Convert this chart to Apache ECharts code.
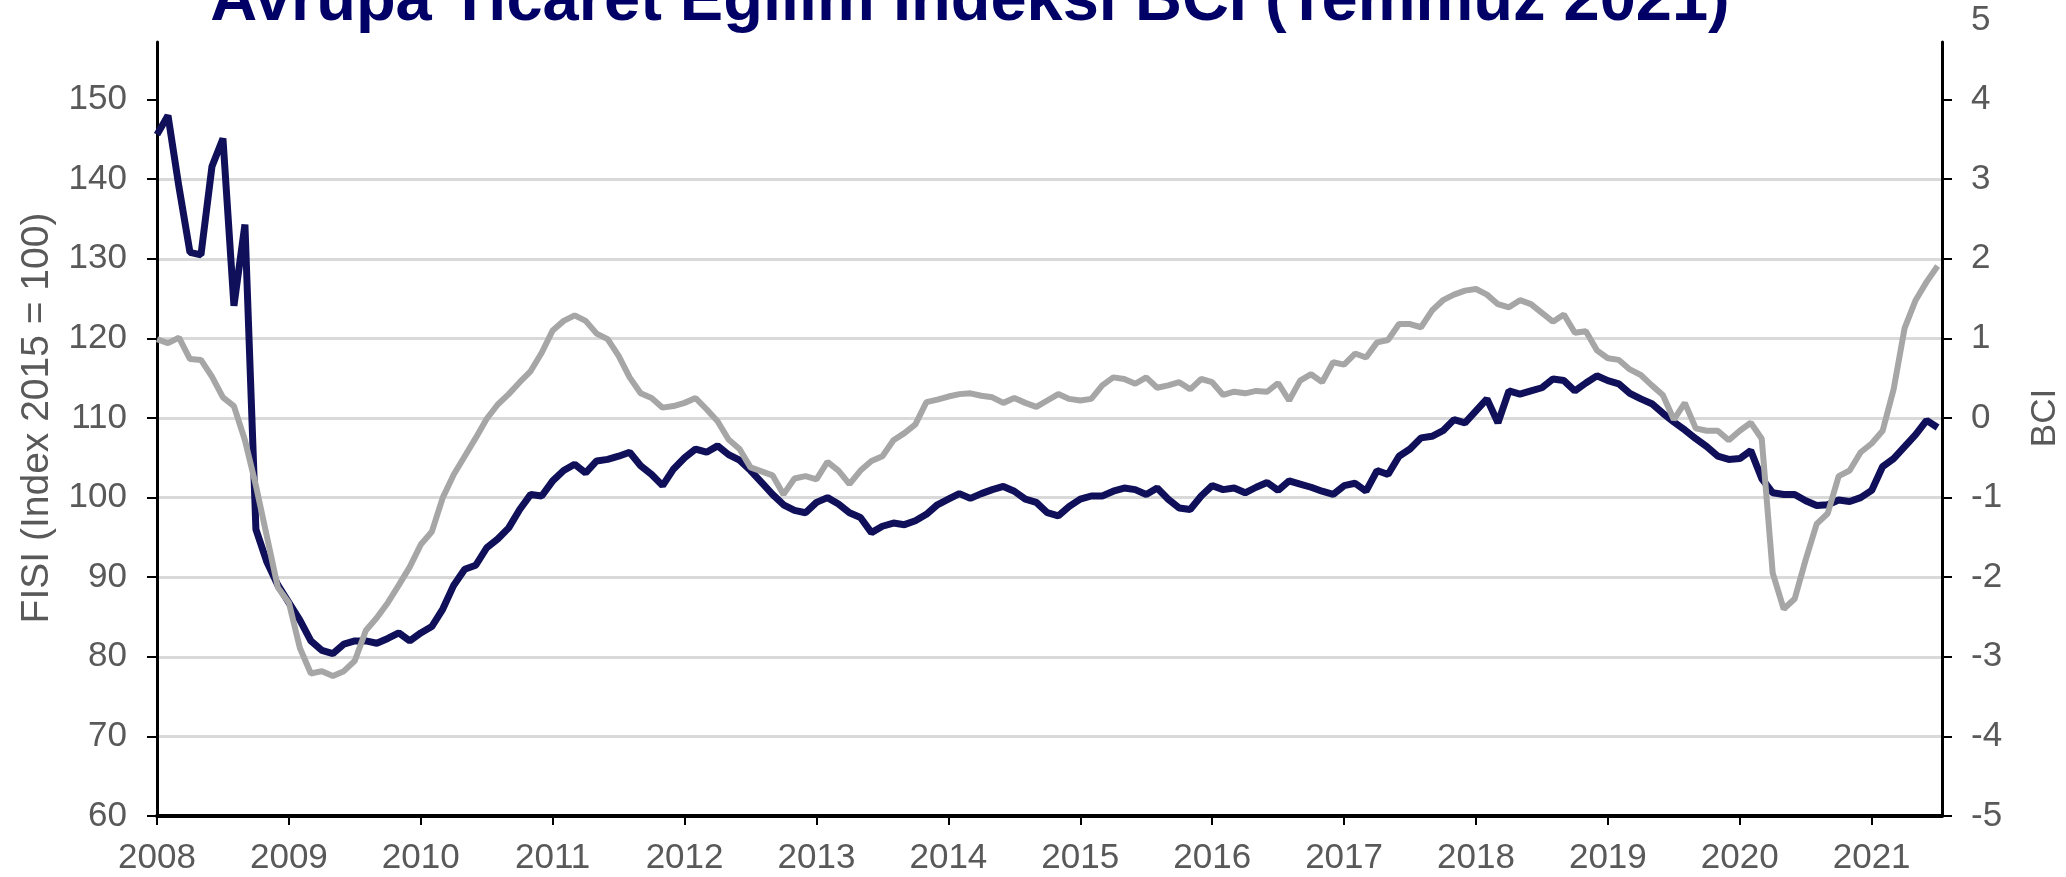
<!DOCTYPE html>
<html>
<head>
<meta charset="utf-8">
<title>Avrupa Ticaret Eğilim İndeksi BCI</title>
<script src="https://cdn.jsdelivr.net/npm/echarts@6/dist/echarts.min.js"></script>
<style>
    html, body { margin: 0; padding: 0; background: #ffffff; }
    #chart { width: 2066px; height: 877px; }
</style>
</head>
<body>
<div id="chart"></div>
<script>
// 起始年份（月度数据，2008年1月 - 2021年7月）
const startYear = 2008;
const yearTicks = [2008, 2009, 2010, 2011, 2012, 2013, 2014, 2015, 2016, 2017, 2018, 2019, 2020, 2021];
// 轴线范围内的刻度（最上方的160 / 5没有刻度线）
const fisiTicks = [60, 70, 80, 90, 100, 110, 120, 130, 140, 150];
const bciTicks = [-5, -4, -3, -2, -1, 0, 1, 2, 3, 4];

// FISI（左轴，Index 2015 = 100）
const fisi = [
    145.6, 148.0, 139.0, 130.8, 130.5, 141.6, 145.1, 124.1, 134.3, 96.0, 91.9, 89.0,
    86.8, 84.6, 82.0, 80.8, 80.4, 81.6, 82.0, 82.0, 81.7, 82.3, 83.0, 82.0,
    83.0, 83.8, 86.0, 89.0, 91.0, 91.5, 93.7, 94.8, 96.2, 98.5, 100.4, 100.2,
    102.1, 103.4, 104.2, 103.1, 104.6, 104.8, 105.2, 105.7, 104.0, 102.9, 101.5, 103.6,
    105.0, 106.1, 105.7, 106.5, 105.4, 104.7, 103.4, 101.9, 100.4, 99.1, 98.4, 98.1,
    99.4, 100.0, 99.2, 98.1, 97.5, 95.6, 96.4, 96.8, 96.6, 97.1, 97.9, 99.1,
    99.8, 100.5, 99.9, 100.5, 101.0, 101.4, 100.8, 99.8, 99.4, 98.1, 97.7, 98.9,
    99.8, 100.2, 100.2, 100.8, 101.2, 101.0, 100.4, 101.2, 99.8, 98.7, 98.5, 100.2,
    101.5, 101.0, 101.2, 100.6, 101.3, 101.9, 100.9, 102.1, 101.7, 101.3, 100.8, 100.4,
    101.5, 101.8, 100.8, 103.4, 102.9, 105.2, 106.1, 107.5, 107.7, 108.4, 109.8, 109.4,
    110.9, 112.4, 109.4, 113.4, 113.0, 113.4, 113.8, 114.9, 114.7, 113.4, 114.4, 115.3,
    114.7, 114.3, 113.1, 112.4, 111.8, 110.6, 109.5, 108.5, 107.4, 106.4, 105.2, 104.8,
    104.9, 105.9, 102.4, 100.6, 100.4, 100.4, 99.6, 99.0, 99.1, 99.7, 99.5, 100.0,
    100.9, 103.9, 104.9, 106.4, 107.9, 109.7, 108.8
];

// BCI（右轴）
const bci = [
    0.99, 0.94, 1.01, 0.74, 0.73, 0.52, 0.26, 0.15, -0.28, -0.85, -1.49, -2.13,
    -2.32, -2.89, -3.21, -3.18, -3.24, -3.18, -3.05, -2.67, -2.51, -2.32, -2.10, -1.87,
    -1.59, -1.43, -1.00, -0.71, -0.48, -0.25, -0.01, 0.17, 0.30, 0.45, 0.59, 0.82,
    1.10, 1.22, 1.29, 1.22, 1.06, 0.99, 0.78, 0.51, 0.31, 0.25, 0.13, 0.15,
    0.19, 0.25, 0.11, -0.04, -0.27, -0.39, -0.62, -0.67, -0.72, -0.96, -0.76, -0.73,
    -0.77, -0.55, -0.66, -0.83, -0.66, -0.54, -0.48, -0.28, -0.19, -0.08, 0.20, 0.23,
    0.27, 0.30, 0.31, 0.28, 0.26, 0.19, 0.25, 0.19, 0.14, 0.22, 0.30, 0.24,
    0.22, 0.24, 0.41, 0.51, 0.49, 0.43, 0.51, 0.38, 0.41, 0.45, 0.36, 0.49,
    0.45, 0.29, 0.33, 0.31, 0.34, 0.33, 0.44, 0.22, 0.47, 0.55, 0.45, 0.70,
    0.67, 0.81, 0.76, 0.95, 0.98, 1.18, 1.18, 1.14, 1.35, 1.48, 1.55, 1.60,
    1.62, 1.55, 1.43, 1.39, 1.48, 1.43, 1.32, 1.21, 1.30, 1.07, 1.09, 0.85,
    0.75, 0.73, 0.61, 0.54, 0.41, 0.29, -0.02, 0.19, -0.13, -0.16, -0.16, -0.28,
    -0.16, -0.06, -0.26, -1.95, -2.40, -2.27, -1.78, -1.33, -1.20, -0.73, -0.66, -0.43,
    -0.32, -0.16, 0.36, 1.13, 1.48, 1.71, 1.91
];

// 月份转为小数年份作为x坐标
const toPairs = arr => arr.map((v, i) => [startYear + i / 12, v]);

const font = 'Liberation Sans, Arial, sans-serif';
const labelColor = '#595959';

// 只画竖直轴线的辅助轴（原图轴线比刻度范围略短）
const lineOnlyAxis = position => ({
    type: 'value',
    gridIndex: 1,
    position: position,
    min: 0,
    max: 1,
    axisLine: { show: true, lineStyle: { color: '#000000', width: 3 } },
    axisTick: { show: false },
    axisLabel: { show: false },
    splitLine: { show: false }
});

const chart = echarts.init(document.getElementById('chart'));

chart.setOption({
    animation: false,
    backgroundColor: '#ffffff',
    title: {
        text: 'Avrupa Ticaret Eğilim İndeksi BCI (Temmuz 2021)',
        left: 970,
        top: -30,
        padding: 0,
        textAlign: 'center',
        textStyle: {
            fontFamily: font,
            fontSize: 65,
            fontWeight: 'bold',
            color: '#000066'
        }
    },
    grid: [{
        left: 157,
        right: 124,
        top: 20,
        bottom: 61,
        containLabel: false,
        outerBoundsMode: 'none'
    }, {
        left: 157,
        right: 124,
        top: 42,
        bottom: 61,
        containLabel: false,
        outerBoundsMode: 'none'
    }],
    xAxis: [{
        type: 'value',
        min: startYear,
        max: startYear + 162.4 / 12,
        axisLine: { show: true, onZero: false, lineStyle: { color: '#000000', width: 4 } },
        axisTick: {
            show: true,
            customValues: yearTicks,
            length: 9,
            lineStyle: { color: '#000000', width: 2 }
        },
        axisLabel: {
            customValues: yearTicks,
            formatter: v => String(v),
            margin: 25,
            fontFamily: font,
            fontSize: 35,
            color: labelColor
        },
        splitLine: { show: false }
    }, {
        type: 'value',
        gridIndex: 1,
        show: false,
        min: 0,
        max: 1
    }],
    yAxis: [{
        type: 'value',
        min: 60,
        max: 160,
        interval: 10,
        name: 'FISI (Index 2015 = 100)',
        nameLocation: 'middle',
        nameGap: 100,
        nameTextStyle: { fontFamily: font, fontSize: 39, color: labelColor },
        axisLine: { show: false },
        axisTick: {
            show: true,
            customValues: fisiTicks,
            length: 10,
            lineStyle: { color: '#000000', width: 2 }
        },
        axisLabel: {
            showMaxLabel: false,
            margin: 30,
            fontFamily: font,
            fontSize: 35,
            color: labelColor
        },
        splitLine: {
            show: true,
            showMaxLine: false,
            lineStyle: { color: '#d9d9d9', width: 3 }
        }
    }, {
        type: 'value',
        position: 'right',
        min: -5,
        max: 5,
        interval: 1,
        name: 'BCI',
        nameLocation: 'middle',
        nameGap: 86,
        nameTextStyle: { fontFamily: font, fontSize: 35, color: labelColor },
        axisLine: { show: false },
        axisTick: {
            show: true,
            customValues: bciTicks,
            length: 10,
            lineStyle: { color: '#000000', width: 2 }
        },
        axisLabel: {
            margin: 29,
            fontFamily: font,
            fontSize: 35,
            color: labelColor
        },
        splitLine: { show: false }
    }, lineOnlyAxis('left'), lineOnlyAxis('right')],
    series: [{
        name: 'FISI',
        type: 'line',
        yAxisIndex: 0,
        symbol: 'none',
        lineStyle: { color: '#10105a', width: 7 },
        data: toPairs(fisi)
    }, {
        name: 'BCI',
        type: 'line',
        yAxisIndex: 1,
        symbol: 'none',
        lineStyle: { color: '#a6a6a6', width: 6 },
        data: toPairs(bci)
    }]
});
</script>
</body>
</html>
